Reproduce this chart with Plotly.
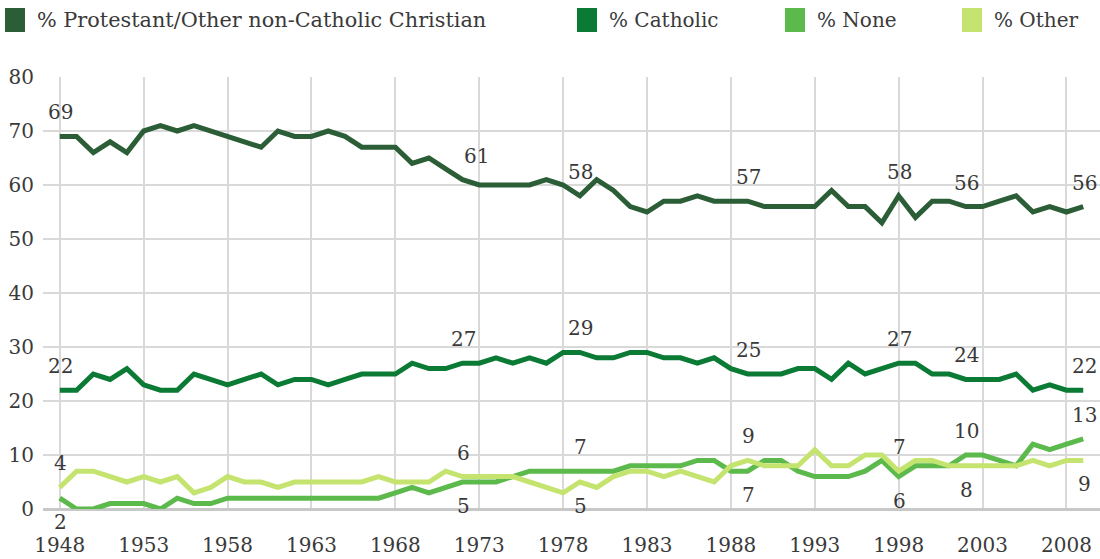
import plotly.graph_objects as go

# Religious identification, annual figures
years = list(range(1948, 2010))

protestant = [69, 69, 66, 68, 66, 70, 71, 70, 71, 70,
              69, 68, 67, 70, 69, 69, 70, 69, 67, 67,
              67, 64, 65, 63, 61, 60, 60, 60, 60, 61,
              60, 58, 61, 59, 56, 55, 57, 57, 58, 57,
              57, 57, 56, 56, 56, 56, 59, 56, 56, 53,
              58, 54, 57, 57, 56, 56, 57, 58, 55, 56,
              55, 56]

catholic = [22, 22, 25, 24, 26, 23, 22, 22, 25, 24,
            23, 24, 25, 23, 24, 24, 23, 24, 25, 25,
            25, 27, 26, 26, 27, 27, 28, 27, 28, 27,
            29, 29, 28, 28, 29, 29, 28, 28, 27, 28,
            26, 25, 25, 25, 26, 26, 24, 27, 25, 26,
            27, 27, 25, 25, 24, 24, 24, 25, 22, 23,
            22, 22]

no_religion = [2, 0, 0, 1, 1, 1, 0, 2, 1, 1,
               2, 2, 2, 2, 2, 2, 2, 2, 2, 2,
               3, 4, 3, 4, 5, 5, 5, 6, 7, 7,
               7, 7, 7, 7, 8, 8, 8, 8, 9, 9,
               7, 7, 9, 9, 7, 6, 6, 6, 7, 9,
               6, 8, 8, 8, 10, 10, 9, 8, 12, 11,
               12, 13]

other = [4, 7, 7, 6, 5, 6, 5, 6, 3, 4,
         6, 5, 5, 4, 5, 5, 5, 5, 5, 6,
         5, 5, 5, 7, 6, 6, 6, 6, 5, 4,
         3, 5, 4, 6, 7, 7, 6, 7, 6, 5,
         8, 9, 8, 8, 8, 11, 8, 8, 10, 10,
         7, 9, 9, 8, 8, 8, 8, 8, 9, 8,
         9, 9]

series_names = ["% Protestant/Other non-Catholic Christian", "% Catholic",
                "% None", "% Other"]
label_years = [1948, 1972, 1979, 1989, 1998, 2002, 2009]
x_ticks = list(range(1948, 2009, 5))
y_ticks = list(range(0, 81, 10))

colors = ["#2b5e36", "#0b7a35", "#5cb94b", "#c5e46f"]
FONT = "DejaVu Serif"
TEXT_COLOR = "#3a3a3a"

# plot-area geometry in pixels (used for placing the hand-built legend)
W, H = 1100, 559
L, R, T, B = 43, 0, 77, 50
PW, PH = W - L - R, H - T - B


def px_to_paper(px, py):
    return (px - L) / PW, (H - B - py) / PH


all_series = [protestant, catholic, no_religion, other]

fig = go.Figure()
for name, vals, col in zip(series_names, all_series, colors):
    fig.add_trace(go.Scatter(
        x=years, y=vals, mode="lines", name=name,
        line=dict(color=col, width=5),
        cliponaxis=False, showlegend=False,
    ))

# value labels at selected years
annotations = []
x_nudge = {(0, 1972): 14}
for si, vals in enumerate(all_series):
    for yr in label_years:
        i = years.index(yr)
        v = vals[i]
        above = True
        if si == 2:
            above = v > other[i]
        elif si == 3:
            above = v > no_religion[i]
        annotations.append(dict(
            x=yr, y=v, xref="x", yref="y", text=str(v), showarrow=False,
            xanchor="center", yanchor="middle",
            yshift=24 if above else -24,
            xshift=x_nudge.get((si, yr), 1),
            font=dict(family=FONT, size=20, color=TEXT_COLOR),
        ))

# legend: coloured squares followed by labels
legend_x = [5, 577, 785, 962]
legend_size = [20.8, 20, 20, 20]
shapes = []
for name, col, lx, fs in zip(series_names, colors, legend_x, legend_size):
    x0, y0 = px_to_paper(lx, 32)
    x1, y1 = px_to_paper(lx + 20, 8)
    shapes.append(dict(type="rect", xref="paper", yref="paper",
                       x0=x0, x1=x1, y0=y0, y1=y1,
                       fillcolor=col, line=dict(width=0)))
    tx, ty = px_to_paper(lx + 30, 20)
    annotations.append(dict(
        x=tx, y=ty, xref="paper", yref="paper", text=name, showarrow=False,
        xanchor="left", yanchor="middle",
        font=dict(family=FONT, size=fs, color=TEXT_COLOR),
    ))

fig.update_layout(
    width=W, height=H,
    margin=dict(l=L, r=R, t=T, b=B, pad=0),
    paper_bgcolor="white", plot_bgcolor="white",
    showlegend=False,
    annotations=annotations, shapes=shapes,
    xaxis=dict(
        range=[1947, 2010], tickmode="array", tickvals=x_ticks,
        showgrid=True, gridcolor="#d9d9d9", gridwidth=1.5,
        zeroline=False, showline=False, ticks="",
        ticklabelstandoff=22,
        tickfont=dict(family=FONT, size=20, color=TEXT_COLOR),
    ),
    yaxis=dict(
        range=[0, 80], tickmode="array", tickvals=y_ticks,
        showgrid=True, gridcolor="#d9d9d9", gridwidth=1.5,
        zeroline=True, zerolinecolor="#c8c8c8", zerolinewidth=3,
        showline=False, ticks="", ticklabelstandoff=8,
        tickfont=dict(family=FONT, size=20, color=TEXT_COLOR),
    ),
)

fig.write_html("out.html")
